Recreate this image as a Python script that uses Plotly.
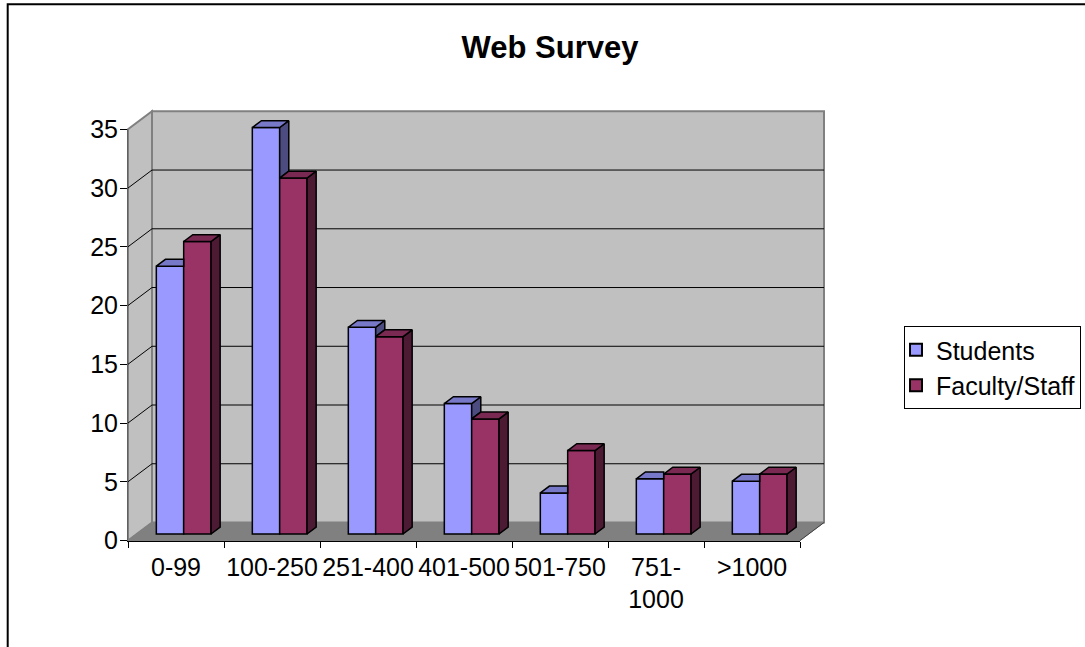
import plotly.graph_objects as go

# ---- data -------------------------------------------------------------
categories = ["0-99", "100-250", "251-400", "401-500", "501-750", "751-1000", ">1000"]
tick_labels = ["0-99", "100-250", "251-400", "401-500", "501-750", "751-<br>1000", ">1000"]
students = [22.8, 34.6, 17.6, 11.1, 3.5, 4.7, 4.5]
faculty_staff = [24.9, 30.3, 16.8, 9.8, 7.1, 5.1, 5.1]
y_ticks = [0, 5, 10, 15, 20, 25, 30, 35]

# ---- layout geometry (pixels) ------------------------------------------
W, H = 1085, 647
FX0, FX1 = 128.0, 800.0          # front plane, left/right
FY0, FY35 = 540.5, 129.3          # front plane, value 0 and value 35
YMAX = 35
CAT_PX = (FX1 - FX0) / len(categories)
VAL_PX = (FY0 - FY35) / YMAX
DEPTH_PX = (24.0, 18.0)           # oblique depth vector (right, up)

# depth expressed in data units
DX = DEPTH_PX[0] / CAT_PX
DY = DEPTH_PX[1] / VAL_PX
BAR_Z0, BAR_ZD = 0.36, 0.38       # bar front position / bar thickness (fraction of depth)
BAR_W, BAR_SHIFT = 0.285, 0.08

STU_FRONT, STU_TOP, STU_SIDE = "#9999FF", "#7878C9", "#4C4C80"
FAC_FRONT, FAC_TOP, FAC_SIDE = "#993366", "#7A2952", "#4C1A33"
WALL, FLOOR, EDGE = "#C0C0C0", "#808080", "#808080"
FONT = "Arial, Liberation Sans, sans-serif"


def px_to_u(px):
    return (px - FX0) / CAT_PX - 0.5


def py_to_v(py):
    return (FY0 - py) / VAL_PX


# canvas subplot covering the whole oblique box
cx0, cx1, cy0, cy1 = 90.0, 880.0, 80.0, 575.0

fig = go.Figure()

# ---- bar fronts ----------------------------------------------------------
base = BAR_Z0 * DY
ddx, ddy = BAR_ZD * DX, BAR_ZD * DY
xs = list(range(len(categories)))

fig.add_trace(go.Bar(
    x=xs, y=students, base=base, width=BAR_W, offset=BAR_SHIFT - BAR_W,
    name="Students", marker=dict(color=STU_FRONT, line=dict(color="black", width=1.5)),
    xaxis="x", yaxis="y",
))
fig.add_trace(go.Bar(
    x=xs, y=faculty_staff, base=base, width=BAR_W, offset=BAR_SHIFT,
    name="Faculty/Staff", marker=dict(color=FAC_FRONT, line=dict(color="black", width=1.5)),
    xaxis="x", yaxis="y",
))


# ---- bar tops and sides ---------------------------------------------------
def poly_trace(polys, color):
    px, py = [], []
    for p in polys:
        for (a, b) in p:
            px.append(a)
            py.append(b)
        px.append(p[0][0])
        py.append(p[0][1])
        px.append(None)
        py.append(None)
    return go.Scatter(x=px, y=py, mode="lines", fill="toself", fillcolor=color,
                      line=dict(color="black", width=1.5), showlegend=False,
                      hoverinfo="skip", xaxis="x", yaxis="y")


stu_side, stu_top, fac_side, fac_top = [], [], [], []
for i, (vs, vf) in enumerate(zip(students, faculty_staff)):
    x0 = i + BAR_SHIFT - BAR_W
    x1 = i + BAR_SHIFT
    x2 = i + BAR_SHIFT + BAR_W
    hs, hf = base + vs, base + vf
    if vs > vf:
        stu_top.append([(x0, hs), (x1, hs), (x1 + ddx, hs + ddy), (x0 + ddx, hs + ddy)])
        stu_side.append([(x1, hf), (x1, hs), (x1 + ddx, hs + ddy), (x1 + ddx, hf + ddy)])
    else:
        stu_top.append([(x0, hs), (x1, hs), (x1, hs + ddy), (x0 + ddx, hs + ddy)])
    fac_top.append([(x1, hf), (x2, hf), (x2 + ddx, hf + ddy), (x1 + ddx, hf + ddy)])
    fac_side.append([(x2, base), (x2, hf), (x2 + ddx, hf + ddy), (x2 + ddx, base + ddy)])

if stu_side:
    fig.add_trace(poly_trace(stu_side, STU_SIDE))
fig.add_trace(poly_trace(stu_top, STU_TOP))
fig.add_trace(poly_trace(fac_side, FAC_SIDE))
fig.add_trace(poly_trace(fac_top, FAC_TOP))

# ---- walls, floor and gridlines (drawn beneath the bars) ---------------
L, R = -0.5, len(categories) - 0.5
shapes = []


def path(pts):
    return "M " + " L ".join(f"{a},{b}" for a, b in pts) + " Z"


# back wall
shapes.append(dict(type="path", xref="x", yref="y", layer="below",
                   path=path([(L + DX, DY), (R + DX, DY), (R + DX, YMAX + DY), (L + DX, YMAX + DY)]),
                   fillcolor=WALL, line=dict(color=EDGE, width=2)))
# side wall
shapes.append(dict(type="path", xref="x", yref="y", layer="below",
                   path=path([(L, 0), (L + DX, DY), (L + DX, YMAX + DY), (L, YMAX)]),
                   fillcolor=WALL, line=dict(color=EDGE, width=2)))
# gridlines on back wall and side wall
for t in y_ticks[1:-1]:
    shapes.append(dict(type="line", xref="x", yref="y", layer="below",
                       x0=L + DX, x1=R + DX, y0=t + DY, y1=t + DY,
                       line=dict(color="black", width=1)))
    shapes.append(dict(type="line", xref="x", yref="y", layer="below",
                       x0=L, x1=L + DX, y0=t, y1=t + DY,
                       line=dict(color="black", width=1)))
# floor
shapes.append(dict(type="path", xref="x", yref="y", layer="below",
                   path=path([(L, 0), (R, 0), (R + DX, DY), (L + DX, DY)]),
                   fillcolor=FLOOR, line=dict(color=FLOOR, width=1)))
shapes.append(dict(type="line", xref="x", yref="y", layer="below",
                   x0=R, x1=R + DX, y0=0, y1=DY, line=dict(color="#404040", width=1)))

# outer chart border
shapes.append(dict(type="rect", xref="paper", yref="paper",
                   x0=7.7 / W, x1=1.02, y0=-0.02, y1=1 - 4.3 / H,
                   line=dict(color="black", width=2), fillcolor="rgba(0,0,0,0)"))

# ---- labelled front axes (second subplot, drawn on top) ---------------
fig.add_trace(go.Scatter(x=categories, y=[0] * len(categories), mode="markers",
                         marker=dict(opacity=0), showlegend=False, hoverinfo="skip",
                         xaxis="x2", yaxis="y2"))

fig.update_layout(
    width=W, height=H,
    margin=dict(l=0, r=0, t=0, b=0, autoexpand=False),
    paper_bgcolor="white", plot_bgcolor="rgba(0,0,0,0)",
    barmode="overlay",
    font=dict(family=FONT, size=25, color="black"),
    title=dict(text="<b>Web Survey</b>", x=550 / W, xanchor="center",
               y=1 - 47 / H, yanchor="middle", font=dict(size=31, family=FONT)),
    showlegend=True,
    legend=dict(x=904 / W, y=1 - 326 / H, xanchor="left", yanchor="top",
                bgcolor="white", bordercolor="black", borderwidth=1,
                indentation=-9, entrywidth=200, entrywidthmode="pixels",
                font=dict(size=25, family=FONT), tracegroupgap=0, itemsizing="constant"),
    shapes=shapes,
    xaxis=dict(domain=[cx0 / W, cx1 / W], range=[px_to_u(cx0), px_to_u(cx1)],
               visible=False, fixedrange=True),
    yaxis=dict(domain=[1 - cy1 / H, 1 - cy0 / H], range=[py_to_v(cy1), py_to_v(cy0)],
               visible=False, fixedrange=True),
    xaxis2=dict(domain=[FX0 / W, FX1 / W], anchor="y2", type="category",
                categoryorder="array", categoryarray=categories,
                tickmode="array", tickvals=categories, ticktext=tick_labels,
                range=[-0.5, len(categories) - 0.5], tickson="boundaries",
                tickangle=0, ticklabelstandoff=4,
                ticks="outside", ticklen=6, tickcolor="black", tickwidth=1,
                showline=True, linecolor="black", linewidth=1,
                showgrid=False, zeroline=False, fixedrange=True,
                tickfont=dict(size=25, family=FONT)),
    yaxis2=dict(domain=[1 - FY0 / H, 1 - FY35 / H], anchor="x2",
                range=[0, YMAX], tickmode="array", tickvals=y_ticks,
                ticks="outside", ticklen=7, tickcolor="black", tickwidth=1,
                ticklabelstandoff=-3,
                showline=True, linecolor="#606060", linewidth=1,
                showgrid=False, zeroline=False, fixedrange=True,
                tickfont=dict(size=25, family=FONT)),
)

fig.write_html("out.html")
